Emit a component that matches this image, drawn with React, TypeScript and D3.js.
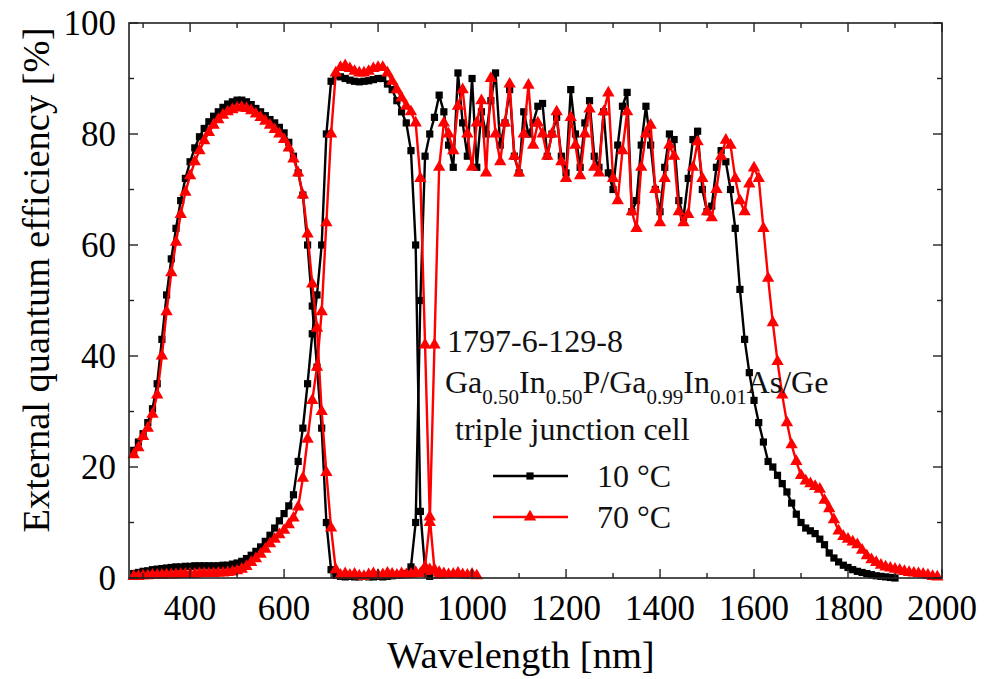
import React, { useRef, useEffect } from 'react';
import * as d3 from 'd3';

// wavelengths run on a 10 nm grid starting at the given value
const top10Start = 280;
const top10 = [
  23, 24.5, 26, 28, 30.5, 35, 43, 51, 57.5, 63,
  68, 72, 75, 77.5, 79.5, 81, 82.2, 83.2, 84, 84.8,
  85.4, 85.8, 86.1, 86.1, 85.8, 85.3, 84.6, 84, 83.3, 82.6,
  82, 81.2, 80.2, 78.5, 76, 73, 69, 60, 49, 38,
  27, 10, 1.5, 0.5, 0.3, 0.2, 0.3, 0.2, 0.2, 0.3,
  0.2, 0.2, 0.3, 0.2, 0.3, 0.4, 0.5, 0.6, 0.8, 1.0,
];
const top70Start = 280;
const top70 = [
  22.2, 23.5, 25.5, 27, 29.5, 33, 40, 48, 55, 60.5,
  65.5, 69.5, 72.5, 75, 77, 78.8, 80.3, 81.6, 82.6, 83.4,
  84, 84.4, 84.7, 84.8, 84.6, 84.2, 83.6, 83, 82.3, 81.6,
  80.8, 80, 79, 77.5, 75.5, 73, 69, 62, 53, 45,
  30, 19, 9, 1.5, 0.5, 0.8, 0.5, 0.7, 0.4, 0.3,
  0.6, 0.8, 0.5, 0.6, 0.9, 0.7, 0.5, 0.8, 0.6, 0.7,
  1.0, 0.8, 1.2, 1.5, 1.3, 1.0, 0.8, 0.6, 0.7, 0.9,
  0.6, 0.5, 0.7, 0.4,
];
const mid10Start = 280;
const mid10 = [
  0.8, 1.0, 1.2, 1.3, 1.5, 1.6, 1.7, 1.8, 1.9, 2.0,
  2.0, 2.1, 2.1, 2.2, 2.2, 2.2, 2.2, 2.2, 2.2, 2.3,
  2.3, 2.5, 2.7, 3.0, 3.5, 4.1, 4.8, 5.6, 6.6, 7.7,
  9.0, 10.3, 11.6, 13, 15, 21, 27, 35, 44, 51,
  60, 80, 89.5, 90.5, 90.3, 90, 89.7, 89.5, 89.4, 89.5,
  89.6, 89.8, 90, 90, 89, 88, 86, 84, 82, 77,
  60, 12, 1.5, 0.3,
];
const mid70Start = 280;
const mid70 = [
  0.3, 0.3, 0.4, 0.4, 0.5, 0.5, 0.5, 0.6, 0.6, 0.6,
  0.7, 0.7, 0.7, 0.7, 0.8, 0.8, 0.8, 0.8, 0.9, 0.9,
  1.0, 1.1, 1.3, 1.6, 2.1, 2.8, 3.5, 4.3, 5.2, 6.2,
  7.0, 7.8, 8.6, 9.6, 10.8, 12.8, 18, 25, 32, 38,
  48, 64, 80, 91, 92, 92.3, 91.8, 91.3, 91, 91,
  91.3, 91.8, 92, 92, 91, 89.5, 88, 86.5, 85, 84,
  82, 72, 42, 11, 1.5, 0.5,
];
const bot10Start = 870;
const bot10 = [
  2, 10, 50, 76, 80, 83, 87, 84, 78, 74,
  91, 82, 76, 90, 74, 84, 80, 86, 91, 78,
  82, 88, 76, 73, 84, 80, 82, 85, 85.5, 76,
  80, 83, 76, 73, 88, 80, 74, 82, 86, 76,
  74, 84, 73, 70, 78, 85, 87.5, 66, 68, 78,
  85, 78, 70, 66, 74, 80, 79, 68, 65, 72,
  79, 80.5, 70, 66, 67, 74, 77, 75, 70, 63,
  52, 43, 37, 32, 28, 24.5, 21, 20, 18.5, 17,
  15.5, 13.5, 11.5, 10, 9, 8.5, 8, 7, 6, 4.5,
  3.6, 2.9, 2.3, 1.9, 1.5, 1.2, 1.0, 0.8, 0.6, 0.4,
  0.3, 0.2, 0.1, 0,
];
const bot70Start = 900;
const bot70 = [
  2, 10, 42, 74, 82, 80, 77, 85, 88, 80,
  74, 82, 86, 73, 90, 80, 75, 82, 89, 76,
  73, 80, 88.8, 78, 82, 80, 76, 80, 84, 75,
  72, 83, 78, 72.5, 80, 84.5, 74, 73, 84, 87.4,
  72, 68, 77, 84, 66, 63, 74, 80, 81.6, 70,
  64, 72, 78, 76, 66, 64, 65.5, 74, 78.6, 72,
  66, 64.9, 70, 76, 78.9, 78, 72, 68, 66, 71,
  73.9, 72, 63, 54, 46, 39, 33, 28, 24, 21,
  18.5, 17.5, 17, 16.5, 16, 14, 12.5, 10.5, 8.5, 7.5,
  7, 6.5, 6, 5, 4, 3.3, 2.8, 2.3, 2, 1.8,
  1.6, 1.4, 1.2, 1, 0.9, 0.8, 0.7, 0.5, 0.3, 0.2,
];

const xMajor = [400, 600, 800, 1000, 1200, 1400, 1600, 1800, 2000];
const xMinor = [300, 500, 700, 900, 1100, 1300, 1500, 1700, 1900];
const yMajor = [0, 20, 40, 60, 80, 100];
const yMinor = [10, 30, 50, 70, 90];

const font = "'Liberation Serif', 'Times New Roman', serif";

const toPoints = (start: number, vals: number[]) =>
  vals.map((v, i) => ({ wl: start + i * 10, v }));

const App = () => {
  const ref = useRef<SVGSVGElement>(null);

  useEffect(() => {
    const svg = d3.select(ref.current);
    svg.selectAll('*').remove();

    const width = 985;
    const height = 679;
    const margin = { top: 23, right: 43, bottom: 101, left: 129 };

    const x = d3.scaleLinear().domain([270, 2000]).range([margin.left, width - margin.right]);
    const y = d3.scaleLinear().domain([0, 100]).range([height - margin.bottom, margin.top]);

    const line = d3.line<{ wl: number; v: number }>()
      .x(d => x(d.wl))
      .y(d => y(d.v));

    const sq = { shape: d3.symbolSquare, size: 52 };
    const tri = { shape: d3.symbolTriangle, size: 66 };
    const series = [
      { pts: toPoints(top10Start, top10), color: '#000', ...sq },
      { pts: toPoints(mid10Start, mid10), color: '#000', ...sq },
      { pts: toPoints(bot10Start, bot10), color: '#000', ...sq },
      { pts: toPoints(top70Start, top70), color: '#f00', ...tri },
      { pts: toPoints(mid70Start, mid70), color: '#f00', ...tri },
      { pts: toPoints(bot70Start, bot70), color: '#f00', ...tri },
    ];

    series.forEach(s => {
      svg.append('path')
        .datum(s.pts)
        .attr('fill', 'none')
        .attr('stroke', s.color)
        .attr('stroke-width', 2.4)
        .attr('d', line);
      svg.append('g')
        .selectAll('path')
        .data(s.pts)
        .join('path')
        .attr('transform', d => `translate(${x(d.wl)},${y(d.v)})`)
        .attr('fill', s.color)
        .attr('d', d3.symbol().type(s.shape).size(s.size)());
    });

    // frame
    const x0 = x(270), x1 = x(2000), y0 = y(0), y1 = y(100);
    svg.append('rect')
      .attr('x', x0).attr('y', y1)
      .attr('width', x1 - x0).attr('height', y0 - y1)
      .attr('fill', 'none').attr('stroke', '#222').attr('stroke-width', 1.6);

    // inward ticks on all four sides
    const ticks = svg.append('g').attr('stroke', '#222').attr('stroke-width', 1.4);
    const xt = [...xMajor.map(t => ({ t, l: 9 })), ...xMinor.map(t => ({ t, l: 5 }))];
    xt.forEach(({ t, l }) => {
      ticks.append('line').attr('x1', x(t)).attr('x2', x(t)).attr('y1', y0).attr('y2', y0 - l);
      ticks.append('line').attr('x1', x(t)).attr('x2', x(t)).attr('y1', y1).attr('y2', y1 + l);
    });
    const yt = [...yMajor.map(t => ({ t, l: 9 })), ...yMinor.map(t => ({ t, l: 5 }))];
    yt.forEach(({ t, l }) => {
      ticks.append('line').attr('y1', y(t)).attr('y2', y(t)).attr('x1', x0).attr('x2', x0 + l);
      ticks.append('line').attr('y1', y(t)).attr('y2', y(t)).attr('x1', x1).attr('x2', x1 - l);
    });

    // tick labels
    svg.append('g')
      .selectAll('text')
      .data(xMajor)
      .join('text')
      .attr('x', d => x(d))
      .attr('y', 620)
      .attr('text-anchor', 'middle')
      .style('font-family', font)
      .style('font-size', '35px')
      .text(d => d);
    svg.append('g')
      .selectAll('text')
      .data(yMajor)
      .join('text')
      .attr('x', 116)
      .attr('y', d => y(d) + 12)
      .attr('text-anchor', 'end')
      .style('font-family', font)
      .style('font-size', '35px')
      .text(d => d);

    // axis titles
    svg.append('text')
      .attr('x', 521)
      .attr('y', 668)
      .attr('text-anchor', 'middle')
      .style('font-family', font)
      .style('font-size', '38.5px')
      .text('Wavelength [nm]');
    svg.append('text')
      .attr('transform', 'translate(49,280) rotate(-90)')
      .attr('text-anchor', 'middle')
      .style('font-family', font)
      .style('font-size', '38.5px')
      .text('External quantum efficiency [%]');

    // annotation
    const note = svg.append('g').style('font-family', font).style('font-size', '32px').attr('fill', '#111');
    note.append('text').attr('x', 447).attr('y', 352).text('1797-6-129-8');
    const formula = note.append('text').attr('x', 445).attr('y', 393);
    const parts: [string, boolean][] = [
      ['Ga', false], ['0.50', true], ['In', false], ['0.50', true], ['P/Ga', false],
      ['0.99', true], ['In', false], ['0.01', true], ['As/Ge', false],
    ];
    parts.forEach(([t, sub]) => {
      formula.append('tspan')
        .attr('dy', sub ? 11 : -11)
        .style('font-size', sub ? '21px' : '32px')
        .text(t);
    });
    formula.select('tspan').attr('dy', 0);
    note.append('text').attr('x', 455).attr('y', 440).text('triple junction cell');

    // legend
    const legend = [
      { label: '10 °C', color: '#000', ...sq, yy: 476 },
      { label: '70 °C', color: '#f00', ...tri, yy: 517 },
    ];
    legend.forEach(l => {
      svg.append('line')
        .attr('x1', 493).attr('x2', 568).attr('y1', l.yy).attr('y2', l.yy)
        .attr('stroke', l.color).attr('stroke-width', 2.4);
      svg.append('path')
        .attr('transform', `translate(530,${l.yy})`)
        .attr('fill', l.color)
        .attr('d', d3.symbol().type(l.shape).size(l.size)());
      note.append('text').attr('x', 597).attr('y', l.yy + 11).text(l.label);
    });
  }, []);

  return (
    <svg ref={ref} width={985} height={679}
      style={{ position: 'absolute', left: 0, top: 0, background: '#fff' }} />
  );
};

export default App;
